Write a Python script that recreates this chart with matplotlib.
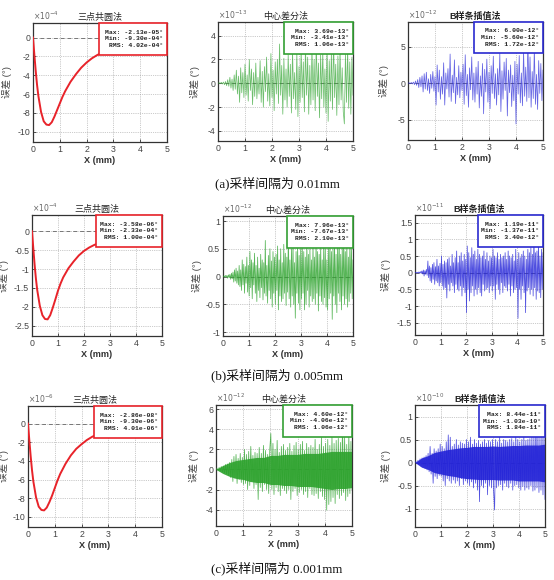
import numpy as np
import matplotlib
matplotlib.use('Agg')
import matplotlib.pyplot as plt
from matplotlib.patches import Rectangle

# ---------------- data ----------------
titles = ['三点共圆法', '中心差分法', 'B样条插值法']
captions = ['(a)采样间隔为 0.01mm', '(b)采样间隔为 0.005mm', '(c)采样间隔为 0.001mm']
exponents = [[-4, -13, -12], [-4, -12, -11], [-6, -12, -10]]
xticks = [0, 1, 2, 3, 4, 5]
yticks = [[[-10, -8, -6, -4, -2, 0], [-4, -2, 0, 2, 4], [-5, 0, 5]],
          [[-2.5, -2, -1.5, -1, -0.5, 0], [-1, -0.5, 0, 0.5, 1], [-1.5, -1, -0.5, 0, 0.5, 1, 1.5]],
          [[-10, -8, -6, -4, -2, 0], [-4, -2, 0, 2, 4, 6], [-1, -0.5, 0, 0.5, 1]]]
ylims = [[(-11.1, 1.55), (-4.85, 5.15), (-7.8, 8.4)],
         [(-2.77, 0.43), (-1.07, 1.09), (-1.87, 1.73)],
         [(-11.08, 1.89), (-5.64, 6.43), (-1.4, 1.25)]]
stats = [[('-2.13e-05', '-9.30e-04', '4.02e-04'), ('3.69e-13', '-3.41e-13', '1.06e-13'), ('6.00e-12', '-5.60e-12', '1.72e-12')],
         [('-3.58e-06', '-2.33e-04', '1.00e-04'), ('7.96e-13', '-7.67e-13', '2.10e-13'), ('1.19e-11', '-1.37e-11', '3.40e-12')],
         [('-2.86e-08', '-9.30e-06', '4.01e-06'), ('4.60e-12', '-4.06e-12', '1.06e-12'), ('8.44e-11', '-1.03e-10', '1.84e-11')]]

# three-point circle method error curves (scaled by exponent)
x_red = [0, 0.05, 0.1, 0.15, 0.2, 0.3, 0.4, 0.5, 0.6, 0.7, 0.8, 0.9, 1.0, 1.1, 1.2,
         1.4, 1.6, 1.8, 2.0, 2.2, 2.4, 2.7, 3.0, 3.5, 4.0, 4.5, 5.0]
red_a = [0, -1.8, -3.5, -5.0, -6.2, -7.9, -8.9, -9.25, -9.3, -9.0, -8.4, -7.7, -7.0, -6.3, -5.7,
         -4.7, -3.9, -3.2, -2.65, -2.2, -1.85, -1.45, -1.15, -0.8, -0.55, -0.35, -0.21]
red_b = [0, -0.45, -0.88, -1.25, -1.55, -1.97, -2.22, -2.32, -2.33, -2.22, -2.02, -1.8, -1.57, -1.38, -1.22,
         -0.98, -0.8, -0.64, -0.52, -0.43, -0.36, -0.28, -0.21, -0.13, -0.08, -0.05, -0.036]
red_c = [0, -1.8, -3.5, -5.0, -6.2, -7.9, -8.9, -9.25, -9.3, -9.0, -8.4, -7.7, -6.9, -6.1, -5.4,
         -4.3, -3.4, -2.7, -2.2, -1.75, -1.4, -1.0, -0.7, -0.38, -0.2, -0.09, -0.03]

# central difference noise, spacing 0.01 mm (x1e-13)
green_a = [0, 0.05, -0.04, 0.08, -0.06, 0.1, -0.12, 0.15,
           -0.2, 0.3, -0.25, 0.5, -0.4, 0.35, -0.6, 0.7,
           -0.5, 1.1, -0.9, 0.6, -1.6, 1.3, -0.8, 0.9, -1.2, 1.6,
           -1.0, 0.7, -1.5, 2.0, -0.6, 1.2, -1.8, 0.9, -1.1, 1.7, -1.3, 0.5,
           -0.9, 1.9, -1.6, 1.0, -2.0, 1.4, -0.7, 2.2, -1.5, 0.8, -1.9, 2.5, -1.2,
           1.1, -2.3, 1.8, -0.9, 2.0, -1.7, 3.3, -1.0, 1.5, -2.6, 2.1, -1.4,
           1.2, -2.0, 2.4, -1.1, 1.6, -2.5, 2.8, -1.3, 0.9, -2.2, 2.6, -2.8, 1.4,
           -1.6, 2.9, -1.2, 1.8, -2.4, 3.2, -1.0, 2.2, -2.6, 1.5, -1.8, 3.0,
           -1.4, 2.0, -2.3, 3.6, -1.1, 1.7, -2.9, 2.4, -1.3, 2.7, -2.0, 1.2, -2.5,
           3.1, -3.2, 1.9, -1.5, 2.6, -2.2, 3.69, -1.2, 1.6, -2.7, 2.3, -1.8,
           2.9, -1.4, 1.3, -2.4, -3.41, 2.5, -1.6, 3.0, -2.1, 1.8, -2.6, 2.2, -1.0]
# B-spline noise, spacing 0.01 mm (x1e-12)
blue_a = [0, 0.05, -0.08, 0.1, -0.1, 0.15, -0.2, 0.3,
          -0.3, 0.5, -0.6, 0.8, -0.5, 1.0, -1.2, 1.3,
          -0.8, 1.5, -1.0, 0.6, -1.4, 1.2, -0.7, 1.6, -1.1, 0.9,
          -3.0, 2.5, -1.2, 1.8, -2.2, 0.9, -1.5, 2.8, -3.0, 1.4, -0.8, 2.0,
          -1.9, 4.0, -2.5, 1.1, -1.3, 3.2, -2.8, 0.8, -1.6, 2.4, -2.0, 1.5, -1.0,
          2.6, -2.9, 3.9, -1.7, 1.2, -3.3, 2.1, -0.9, 3.6, -2.3, 1.4, -2.6,
          2.2, -1.5, 3.0, -3.4, 1.0, -1.8, 2.7, -4.2, 1.9, -1.2, 3.3, -2.6, 1.5,
          -3.5, 2.4, -1.4, 3.7, -2.1, 1.3, -3.0, 2.0, -1.6, 4.1, -3.9, 1.7,
          -2.2, 2.9, -1.0, 3.4, -4.5, 1.8, -1.3, 2.5, -3.2, 1.1, -2.4, 3.0, -5.6,
          2.6, -1.5, 3.8, -2.7, 1.4, -3.1, 4.4, -1.8, 2.2, -2.5, 6.0, -2.0,
          3.6, -3.3, 1.6, -2.1, 4.8, -2.9, 1.2, -3.6, 3.1, -1.4, 2.7, -2.4, 1.8]
# central difference noise, spacing 0.005 mm (x1e-12)
green_b = [0, 0.01, -0.01, 0.02, -0.01, 0.02, -0.03, 0.03, -0.02, 0.04, -0.05,
           0.06, -0.04, 0.08, -0.1, 0.12, -0.08, 0.15, -0.12, 0.1, -0.15,
           0.2, -0.18, 0.12, -0.25, 0.3, -0.15, 0.22, -0.3, 0.18, -0.12, 0.35, -0.28, 0.2,
           -0.35, 0.45, -0.2, 0.3, -0.4, 0.25, -0.15, 0.42, -0.3, 0.2, -0.45, 0.35, -0.25, 0.15, -0.38, 0.4, -0.2,
           0.3, -0.42, 0.25, -0.3, 0.65, -0.35, 0.2, -0.48, 0.38, -0.25, 0.5, -0.4, 0.28, -0.55, 0.45, -0.3, 0.35,
           -0.5, 0.4, -0.25, 0.55, -0.6, 0.3, -0.35, 0.5, -0.45, 0.25, -0.4, 0.58, -0.3, 0.42, -0.52, 0.35, -0.28,
           0.8, -0.4, 0.3, -0.55, 0.5, -0.35, 0.6, -0.5, 0.25, -0.75, 0.45, -0.3, 0.55, -0.48, 0.38, -0.6, 0.5,
           -0.4, 0.55, -0.3, 0.45, -0.6, 0.35, -0.5, 0.6, -0.25, 0.4, -0.55, 0.5, -0.35, 0.3, -0.45, 0.58, -0.4,
           0.35, -0.5, 0.6, -0.3, 0.45, -0.62, 0.4, -0.35, 0.55, -0.45, 0.3, -0.5, 0.62, -0.38, 0.5, -0.55, 0.3,
           -0.6, 0.5, -0.4, 0.65, -0.3, 0.45, -0.77, 0.5, -0.35, 0.6, -0.5, 0.4, -0.65, 0.55, -0.3, 0.7, -0.45,
           0.4, -0.6, 0.55, -0.35, 0.75, -0.5, 0.45, -0.4, 0.6, -0.55, 0.35, -0.45, 0.65, -0.3, 0.5, -0.4, 0.3]
# B-spline noise, spacing 0.005 mm (x1e-11)
blue_b = [0, 0.01, -0.01, 0.01, -0.02, 0.02, -0.01, 0.03, -0.02, 0.05, -0.04,
          0.08, -0.1, 0.06, -0.05, 0.1, -0.08, 0.35, -0.15, 0.2, -0.25,
          0.15, -0.3, 0.25, -0.2, 0.3, -0.35, 0.18, -0.25, 0.4, -0.3, 0.2, -0.4, 0.28,
          -0.3, 0.5, -0.4, 0.25, -0.5, 0.35, -0.45, 0.3, -0.76, 0.4, -0.35, 0.45, -0.55, 0.2, -0.3, 0.55, -0.4,
          0.3, -0.6, 0.45, -0.35, 0.65, -0.5, 0.3, -0.55, 0.5, -0.4, 0.6, -0.7, 0.35, -0.45, 0.55, -0.6, 0.4,
          -1.2, 0.8, -0.5, 0.6, -0.85, 0.45, -0.6, 0.75, -0.4, 0.55, -0.7, 0.65, -0.5, 0.4, -0.65, 0.7, -0.45,
          0.55, -0.6, 0.45, -0.7, 0.5, -0.35, 0.65, -0.55, 0.4, -0.5, 0.6, -0.45, 0.35, -0.6, 0.5, -0.4, 0.45,
          -0.55, 0.7, -0.4, 0.5, -0.8, 0.45, -0.35, 0.6, -0.5, 0.4, -0.65, 0.55, -0.3, 0.45, -0.6, 0.5, -0.4,
          0.6, -0.45, 0.4, -0.55, 0.65, -0.35, 0.5, -0.7, 0.45, -0.4, 0.55, -0.6, 0.35, -0.5, 0.7, -0.45, 0.4,
          -1.37, 0.6, -0.5, 0.45, -0.8, 0.55, -0.4, 0.65, -0.6, 0.5, -1.2, 0.4, -0.55, 0.7, -0.45, 0.6, -0.65,
          0.75, -0.5, 0.55, -0.7, 1.19, -0.45, 0.6, -0.8, 0.65, -0.55, 0.9, -0.6, 0.5, -0.75, 0.7, -0.5, 0.6]
# spacing 0.001 mm: dense band envelope (every 0.25 mm) + peak excursions
x_env = [0, 0.25, 0.5, 0.75, 1.0, 1.25, 1.5, 1.75, 2.0, 2.25, 2.5, 2.75, 3.0, 3.25, 3.5, 3.75, 4.0, 4.25, 4.5, 4.75, 5.0]
green_c_up = [0, 0.4, 0.7, 0.9, 1.0, 1.1, 1.2, 1.2, 1.4, 1.4, 1.5, 1.5, 1.5, 1.6, 1.6, 1.6, 1.7, 1.8, 1.8, 1.8, 1.8]
green_c_lo = [0, -0.4, -0.7, -0.9, -1.0, -1.2, -1.3, -1.3, -1.5, -1.5, -1.6, -1.6, -1.7, -1.7, -1.7, -1.8, -1.9, -2.0, -1.9, -1.9, -1.8]
green_c = [0, 0.1, -0.1, 0.2, -0.2, 0.3, -0.3, 0.35, -0.4, 0.5, -0.45, 0.55, -0.6, 0.7,
           -0.8, 1.0, -1.2, 1.3, -0.9, 1.5, -1.4, 1.1, -1.0, 1.6, -1.3, 1.2, -1.5,
           2.0, -1.4, 1.5, -2.0, 1.8, -1.6, 2.3, -1.2, 1.4, -1.9, 1.7, -1.5, 1.6,
           -3.0, 2.2, -1.8, 1.6, -2.2, 2.4, -1.5, 1.9, -2.0, 1.5, -2.4, 2.0, 3.6,
           -2.0, 2.6, -2.5, 2.0, -1.8, 2.9, -2.2, 1.7, -2.6, 2.3, -1.9, 2.5, -2.1,
           1.9, -2.4, 2.2, -2.0, 2.6, -3.0, 1.8, -2.2, 2.4, -1.9, 2.7, -2.6, 2.0,
           -2.3, 2.5, -2.0, 2.8, -2.5, 1.9, -2.2, 2.6, -2.8, 2.2, -1.9, 2.4, -2.5,
           2.2, -2.6, 3.0, -2.4, 2.0, -2.9, 2.5, -2.2, 3.2, -2.7, 2.3, -3.0, 2.6,
           -4.06, 3.0, -3.5, 2.4, -3.2, 3.3, -2.8, 2.6, -3.4, 2.9, -2.5, 3.1, -2.9,
           2.7, -2.6, 4.6, -2.3, 3.2, -3.1, 2.5, -2.7, 3.5, -2.4, 2.8, -2.0]
blue_c_up = [0, 0.1, 0.15, 0.22, 0.25, 0.28, 0.3, 0.32, 0.33, 0.35, 0.35, 0.35, 0.36, 0.35, 0.36, 0.37, 0.37, 0.38, 0.38, 0.38, 0.4]
blue_c_lo = [0, -0.1, -0.15, -0.22, -0.25, -0.28, -0.3, -0.33, -0.35, -0.36, -0.37, -0.37, -0.37, -0.38, -0.38, -0.38, -0.4, -0.4, -0.4, -0.4, -0.42]
blue_c = [0, 0.02, -0.03, 0.05, -0.05, 0.08, -0.08, 0.1, -0.1, 0.12, -0.13, 0.15, -0.16, 0.2,
          -0.2, 0.35, -0.25, 0.2, -0.45, 0.3, -0.3, 0.25, -0.35, 0.3, -0.28, 0.4, -0.3,
          0.35, -0.4, 0.3, -0.5, 0.45, -0.35, 0.6, -0.4, 0.55, -0.45, 0.35, -0.38, 0.4,
          -0.45, 0.5, -0.4, 0.38, -0.5, 0.45, -0.35, 0.42, -0.48, 0.4, -0.4, 0.5, -0.45,
          0.45, -0.5, 0.55, -0.42, 0.4, -0.55, 0.5, -0.45, 0.42, -0.6, 0.48, -0.85, 0.4,
          -0.5, 0.45, -0.55, 0.5, -0.45, 0.42, -0.7, 0.48, -0.5, 0.45, -0.55, 0.5, -0.6,
          -1.03, 0.5, -0.55, 0.45, -0.5, 0.55, -0.48, 0.42, -0.6, 0.5, -0.45, 0.48, -0.52,
          0.45, -0.55, 0.5, -0.45, 0.52, -0.6, 0.45, -0.5, 0.55, -0.48, 0.5, -0.55, 0.45,
          -0.6, 0.5, -0.52, 0.55, -0.6, 0.48, -0.55, 0.5, -0.58, 0.52, -0.5, 0.55, -0.62,
          0.55, -0.6, 0.84, -0.55, 0.6, -0.65, 0.55, -0.6, 0.65, -0.7, 0.6, -0.8]

# ---------------- layout (pixel boxes: x0, x1, y0, y1) ----------------
W, H = 554, 580
boxes = [[(33, 167, 23, 142), (218, 353, 22, 141), (408, 543, 22, 140)],
         [(32, 162, 215, 336), (223, 353, 216, 336), (415, 543, 215, 335)],
         [(28, 162, 406, 527), (216, 352, 405, 526), (415, 545, 405, 527)]]
ylabel_px = [[12, 200, 389], [9, 202, 391], [9, 199, 391]]
caption_y = [183, 375, 568]

RED = '#e8232a'
GREEN = '#2ea32e'
BLUE = '#2424d8'
EDGE = [RED, '#33a033', '#2a2ad0']

mixed_serif = ['Liberation Serif', 'Noto Sans CJK SC']
mixed_sans = ['Liberation Sans', 'Noto Sans CJK SC']

fig = plt.figure(figsize=(W / 100, H / 100), dpi=100)
fig.patch.set_facecolor('white')

red_series = [red_a, red_b, red_c]
noise = [[green_a, blue_a], [green_b, blue_b], [green_c, blue_c]]
envs = [None, None, [(green_c_up, green_c_lo), (blue_c_up, blue_c_lo)]]

for r in range(3):
    for c in range(3):
        x0, x1, y0, y1 = boxes[r][c]
        ax = fig.add_axes([x0 / W, 1 - y1 / H, (x1 - x0) / W, (y1 - y0) / H])
        ax.set_xlim(0, 5)
        ax.set_ylim(*ylims[r][c])
        ax.axhline(0, color='#777777', lw=0.7, ls=(0, (4, 3)), zorder=1)
        if c == 0:
            ax.plot(x_red, red_series[r], color=RED, lw=1.4, zorder=3)
        else:
            col = GREEN if c == 1 else BLUE
            vals = noise[r][c - 1]
            xs = np.linspace(0, 5, len(vals))
            if envs[r] is not None:
                up, lo = envs[r][c - 1]
                ax.fill_between(x_env, lo, up, color=col, lw=0, alpha=0.9, zorder=2)
                ax.plot(xs, vals, color=col, lw=0.55, alpha=0.8, zorder=3)
            else:
                alpha = 0.7 if r == 0 else 0.8
                ax.plot(xs, vals, color=col, lw=0.55, alpha=alpha, zorder=3)
        ax.set_xticks(xticks)
        ax.set_yticks(yticks[r][c])
        ax.set_yticklabels([('%g' % v) for v in yticks[r][c]])
        ax.grid(True, color='#999999', lw=0.5, ls=':')
        ax.set_axisbelow(True)
        ax.tick_params(direction='in', length=2, width=0.6, labelsize=6.3,
                       labelcolor='#444444', colors='#333333', pad=2)
        for lab in ax.get_xticklabels() + ax.get_yticklabels():
            lab.set_family('Liberation Sans')
        for s in ax.spines.values():
            s.set_color('#333333')
            s.set_linewidth(0.9)
        ax.set_xlabel('X (mm)', fontsize=6.6, fontweight='bold', family='Liberation Sans',
                      color='#333333', labelpad=1.5)
        ax.set_ylabel('误差 (°)', fontsize=6.8, family=mixed_sans, color='#444444')
        ax.yaxis.set_label_coords((ylabel_px[r][c] - x0) / (x1 - x0), 0.5)
        ax.set_title(titles[c], fontsize=6.5, family=mixed_sans,
                     color='#222222', pad=2, fontweight='bold' if c == 2 else 'normal')
        ax.text(0.0, 1.005, r'$\times10^{%d}$' % exponents[r][c], transform=ax.transAxes,
                ha='left', va='bottom', fontsize=5.5, color='#666666')
        # stats box
        ax.add_patch(Rectangle((0.49, 0.735), 0.51, 0.265, transform=ax.transAxes,
                               facecolor='white', edgecolor=EDGE[c], lw=1.2, zorder=5, clip_on=False))
        mx, mn, rms = stats[r][c]
        txt = 'Max: %s°\nMin: %s°\nRMS: %s°' % (mx, mn, rms)
        ax.text(0.97, 0.868, txt, transform=ax.transAxes, ha='right', va='center',
                multialignment='right', family='Liberation Mono', fontweight='bold',
                fontsize=4.6, color='#222222', linespacing=1.4, zorder=6)
    fig.text(0.5, 1 - caption_y[r] / H, captions[r], ha='center', va='center',
             fontsize=9.3, family=mixed_serif, color='#111111')

fig.savefig('out.png', dpi=100, facecolor='white')
